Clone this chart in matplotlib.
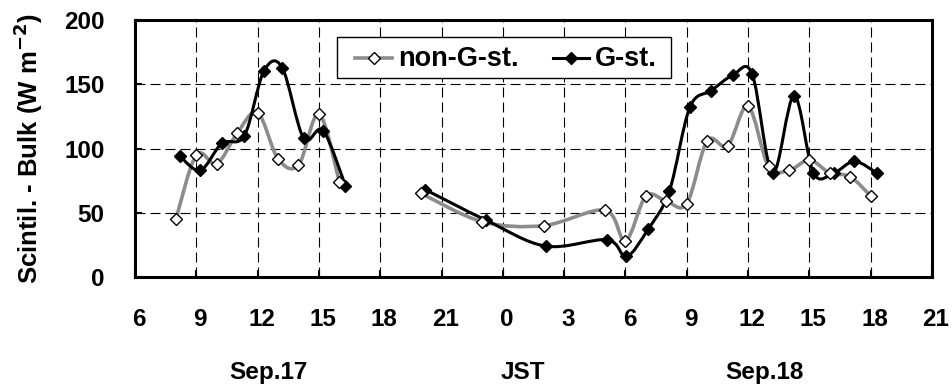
import numpy as np
import matplotlib
matplotlib.use("Agg")
import matplotlib.pyplot as plt
from matplotlib.path import Path
from matplotlib.patches import PathPatch, Rectangle
from matplotlib.lines import Line2D
import matplotlib.transforms as mtransforms

# Hours counted from 0:00 JST on Sep.17 (24 = 0:00 on Sep.18); NaN marks the data gap
hours_non = [8, 9, 10, 11, 12, 13, 14, 15, 16, np.nan,
             20, 23, 26, 29, 30, 31, 32, 33, 34, 35, 36, 37, 38, 39, 40, 41, 42]
flux_non = [45, 95, 88, 112, 128, 92, 87, 127, 74, np.nan,
            65, 43, 40, 52, 28, 63, 59, 57, 106, 102, 133, 86, 83, 91, 81, 78, 63]

hours_g = [8.2, 9.2, 10.25, 11.35, 12.3, 13.2, 14.25, 15.2, 16.3, np.nan,
           20.2, 23.2, 26.1, 29.1, 30.05, 31.1, 32.15, 33.15, 34.2, 35.25, 36.2,
           37.2, 38.25, 39.2, 40.2, 41.2, 42.3]
flux_g = [94, 83, 104, 110, 160, 163, 108, 114, 71, np.nan,
          68, 44, 24, 29, 16, 37, 67, 132, 145, 157, 158, 81, 141, 81, 81, 90, 81]

tick_hours = list(range(6, 46, 3))
tick_labels = ["6", "9", "12", "15", "18", "21", "0", "3", "6", "9", "12", "15", "18", "21"]
day_labels = ["Sep.17", "JST", "Sep.18"]
day_label_hours = [12.55, 25.0, 36.8]
series_names = ["non-G-st.", "G-st."]

plt.rcParams["font.family"] = ["Liberation Sans", "DejaVu Sans"]
plt.rcParams["font.weight"] = "bold"
plt.rcParams["mathtext.default"] = "bf"

GRAY = "#8c8c8c"
FS = 17.5
W, H = 952, 385


def smooth_path(x, y):
    """Cubic Bezier path through every point (Catmull-Rom style), broken at NaNs."""
    x = np.asarray(x, float)
    y = np.asarray(y, float)
    verts, codes = [], []
    ok = ~np.isnan(x) & ~np.isnan(y)
    idx = np.where(ok)[0]
    segs = np.split(idx, np.where(np.diff(idx) != 1)[0] + 1)
    for seg in segs:
        pts = np.column_stack([x[seg], y[seg]])
        n = len(pts)
        verts.append(pts[0])
        codes.append(Path.MOVETO)
        for i in range(n - 1):
            p0 = pts[i - 1] if i > 0 else pts[i]
            p1, p2 = pts[i], pts[i + 1]
            p3 = pts[i + 2] if i + 2 < n else pts[i + 1]
            c1 = p1 + (p2 - p0) / 6.0
            c2 = p2 - (p3 - p1) / 6.0
            verts += [c1, c2, p2]
            codes += [Path.CURVE4] * 3
    return Path(np.array(verts), codes)


fig = plt.figure(figsize=(W / 100, H / 100), dpi=100)
ax = fig.add_axes([135 / W, 1 - 277 / H, (932 - 135) / W, (277 - 20) / H])

styles = [
    dict(color=GRAY, lw=2.6, mfc="white"),
    dict(color="black", lw=2.2, mfc="black"),
]

# smoothed lines and markers
for (hx, vy, st, z) in [(hours_non, flux_non, styles[0], 3), (hours_g, flux_g, styles[1], 4)]:
    ax.add_patch(PathPatch(smooth_path(hx, vy), fill=False, edgecolor=st["color"],
                           lw=st["lw"], capstyle="round", joinstyle="round", zorder=z))
ax.plot(hours_g, flux_g, linestyle="none", marker="D", ms=6.5,
        mfc="black", mec="black", mew=1.0, zorder=5)
ax.plot(hours_non, flux_non, linestyle="none", marker="D", ms=6.5,
        mfc="white", mec="black", mew=1.0, zorder=6)

ax.set_xlim(6, 45)
ax.set_ylim(0, 200)
ax.set_xticks(tick_hours)
ax.set_xticklabels(tick_labels)
ax.set_yticks([0, 50, 100, 150, 200])

ax.grid(True, color="black", lw=0.8, linestyle=(0, (9, 4.5)))
ax.set_axisbelow(True)

for s in ax.spines.values():
    s.set_linewidth(2.2)

ax.tick_params(axis="both", direction="in", length=5, width=1.5,
               labelsize=FS, top=False, right=False)
ax.tick_params(axis="x", pad=22)
ax.tick_params(axis="y", pad=22)
shift = mtransforms.ScaledTranslation(4 / 100, 0, fig.dpi_scale_trans)
for lab in ax.get_xticklabels():
    lab.set_fontweight("bold")
    lab.set_transform(lab.get_transform() + shift)
for lab in ax.get_yticklabels():
    lab.set_fontweight("bold")

ax.set_ylabel("Scintil. - Bulk (W m$^{-2}$)", fontsize=18.5, fontweight="bold")
ax.yaxis.set_label_coords(-0.113, 0.5)

# day / time-zone captions below the hour ticks
trans = mtransforms.blended_transform_factory(ax.transData, fig.transFigure)
for h, lab in zip(day_label_hours, day_labels):
    ax.text(h, 6 / H, lab, transform=trans, ha="center", va="baseline",
            fontsize=FS, fontweight="bold")

# legend box drawn in figure pixel units
px = mtransforms.Affine2D().scale(1 / W, -1 / H).translate(0, 1) + fig.transFigure
fig.add_artist(Rectangle((337, 37), 334, 41, transform=px, facecolor="white",
                         edgecolor="black", lw=1.0, zorder=10))
ly = 58
for (x0, x1, tx), name, st in zip([(355, 392, 398), (553, 589, 595)], series_names, styles):
    fig.add_artist(Line2D([x0, x1], [ly, ly], transform=px, color=st["color"], lw=st["lw"],
                          zorder=11))
    fig.add_artist(Line2D([(x0 + x1) / 2], [ly], transform=px, linestyle="none", marker="D",
                          ms=6.5, mfc=st["mfc"], mec="black", mew=1.0, zorder=12))
    fig.text(tx, ly + 1, name, transform=px, ha="left", va="center", fontsize=19.5,
             fontweight="bold", zorder=12)

fig.savefig("out.png", dpi=100)
